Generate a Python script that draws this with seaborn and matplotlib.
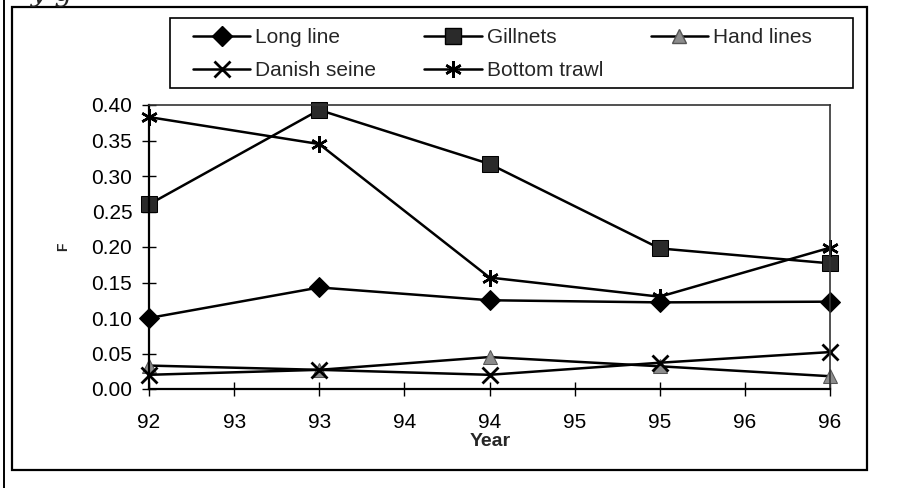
import numpy as np
import pandas as pd
import matplotlib
matplotlib.use("Agg")
import matplotlib.pyplot as plt
import seaborn as sns
from matplotlib.patches import Rectangle
from matplotlib.lines import Line2D

# ---- data ----
years = [92, 93, 94, 95, 96]
long_line = [0.100, 0.143, 0.125, 0.122, 0.123]
gillnets = [0.260, 0.393, 0.317, 0.198, 0.177]
hand_lines = [0.033, 0.027, 0.045, 0.032, 0.018]
danish_seine = [0.020, 0.027, 0.020, 0.037, 0.052]
bottom_trawl = [0.383, 0.345, 0.157, 0.130, 0.199]
series_names = ["Long line", "Gillnets", "Hand lines", "Danish seine", "Bottom trawl"]
x_tick_labels = ["92", "93", "93", "94", "94", "95", "95", "96", "96"]
y_ticks = [0.00, 0.05, 0.10, 0.15, 0.20, 0.25, 0.30, 0.35, 0.40]

sns.set_theme(style="white")
plt.rcParams["font.family"] = ["Liberation Sans", "DejaVu Sans"]

fig = plt.figure(figsize=(9.01, 4.88), dpi=100)
W, H = 901, 488
ax = fig.add_axes([149 / W, 1 - 389 / H, (830 - 149) / W, (389 - 105) / H])

styles = {
    "Long line": dict(marker="D", markersize=10, markerfacecolor="black", markeredgecolor="black"),
    "Gillnets": dict(marker="s", markersize=11, markerfacecolor="#2a2a2a", markeredgecolor="black"),
    "Hand lines": dict(marker="^", markersize=10, markerfacecolor="#8c8c8c", markeredgecolor="#555555"),
    "Danish seine": dict(marker="x", markersize=11, markeredgewidth=2.0, markeredgecolor="black"),
    "Bottom trawl": dict(marker=(6, 2, 0), markersize=12, markeredgewidth=1.8, markeredgecolor="black"),
}
values = {
    "Long line": long_line,
    "Gillnets": gillnets,
    "Hand lines": hand_lines,
    "Danish seine": danish_seine,
    "Bottom trawl": bottom_trawl,
}

handles = {}
for name in series_names:
    df = pd.DataFrame({"Year": years, "F": values[name]})
    sns.lineplot(data=df, x="Year", y="F", ax=ax, color="black", linewidth=1.8,
                 clip_on=False, legend=False, **styles[name])
    handles[name] = Line2D([], [], color="black", linewidth=1.8, **styles[name])

ax.set_xlim(92, 96)
ax.set_ylim(0, 0.4)
ax.set_xticks(np.arange(92, 96.01, 0.5))
ax.set_xticklabels(x_tick_labels)
ax.set_yticks(y_ticks)
ax.set_yticklabels([f"{v:.2f}" for v in y_ticks])
ax.tick_params(axis="both", direction="inout", length=10, width=1.0, colors="black",
               labelsize=15, bottom=True, left=True)
ax.tick_params(axis="x", pad=12)
ax.tick_params(axis="y", pad=7)
for side in ["left", "bottom"]:
    ax.spines[side].set_color("black")
    ax.spines[side].set_linewidth(1.6)
for side in ["top", "right"]:
    ax.spines[side].set_color("#333333")
    ax.spines[side].set_linewidth(1.2)
ax.grid(False)

ax.set_xlabel("")
ax.set_ylabel("")
fig.text(490 / W, 1 - 441 / H, "Year", fontsize=14, fontweight="bold",
         ha="center", va="center")
fig.text(63 / W, 1 - 247 / H, "F", rotation=90, fontsize=10, fontweight="bold",
         ha="center", va="center")

order = ["Long line", "Danish seine", "Gillnets", "Bottom trawl", "Hand lines"]
leg = fig.legend([handles[n] for n in order], order, ncol=3, mode="expand",
                 loc="center", bbox_to_anchor=(193 / W, 1 - 89 / H, (812 - 193) / W, 70 / H),
                 frameon=False, fontsize=15, handlelength=2.75,
                 handletextpad=0.24, borderaxespad=0, borderpad=0, numpoints=1,
                 labelspacing=0.68, columnspacing=1.0)

# legend frame
fig.add_artist(Rectangle((170 / W, 1 - 88 / H), (853 - 170) / W, (88 - 18) / H,
                         transform=fig.transFigure, fill=False, edgecolor="black", linewidth=1.2))
# outer frame of the chart
fig.add_artist(Rectangle((12 / W, 1 - 470 / H), (867 - 12) / W, (470 - 7) / H,
                         transform=fig.transFigure, fill=False, edgecolor="black", linewidth=1.6))
fig.add_artist(Line2D([4 / W, 4 / W], [0, 1], transform=fig.transFigure, color="black", linewidth=1.4))
fig.text(30 / W, 1 + 6 / H, "y g", fontsize=20, family="DejaVu Serif", style="italic",
         ha="left", va="center")

fig.savefig("out.png", dpi=100)
